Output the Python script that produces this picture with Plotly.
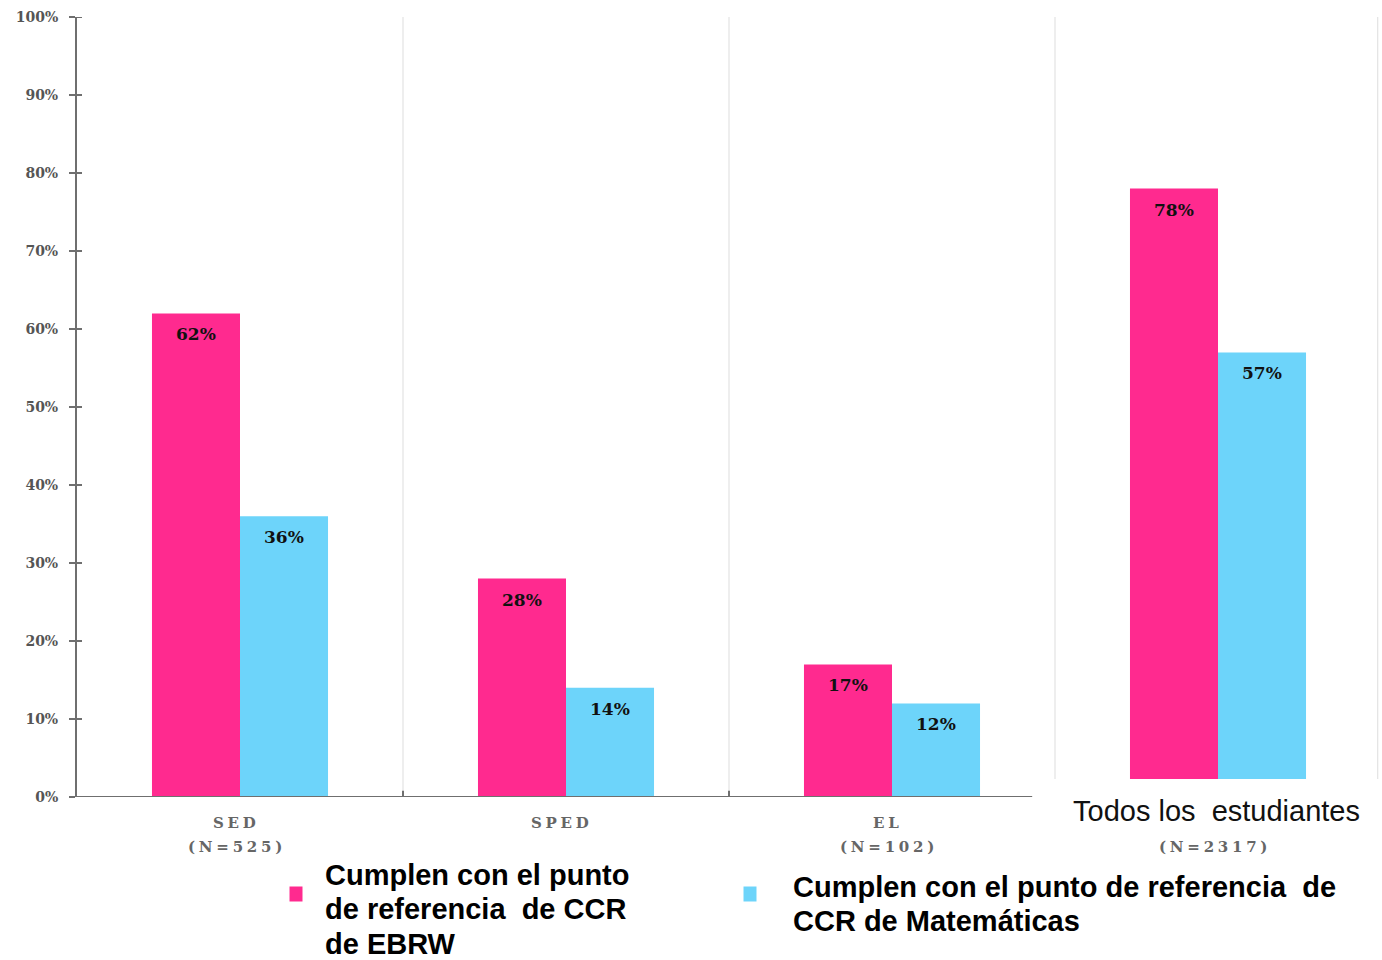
import plotly.graph_objects as go

categories = ["SED", "SPED", "EL", "Todos"]
cat_names = ["SED", "SPED", "EL", ""]
n_labels = ["(N=525)", "", "(N=102)", "(N=2317)"]
ebrw = [62, 28, 17, 78]
math = [36, 14, 12, 57]
ytick_vals = [0, 10, 20, 30, 40, 50, 60, 70, 80, 90, 100]
ytick_text = [f"{v}%" for v in ytick_vals]
legend_ebrw_lines = ["Cumplen con el punto", "de referencia  de CCR", "de EBRW"]
legend_math_lines = ["Cumplen con el punto de referencia  de", "CCR de Matemáticas"]
todos_label = "Todos los  estudiantes"

PINK = "#FF2A8F"
CYAN = "#6DD4FA"

# plot area geometry in pixels
L, R, T, B = 77, 1, 17, 163
W, H = 1382, 960
pw = W - L - R
ph = H - T - B

def px_x(px):
    return (px - L) / pw

def px_y(py):
    return (H - B - py) / ph

def spaced(s, sep="\u2005"):
    return sep.join(list(s))

fig = go.Figure()
fig.add_trace(go.Bar(x=categories, y=ebrw, marker=dict(color=PINK, line=dict(width=0)),
                     showlegend=False, hoverinfo="skip"))
fig.add_trace(go.Bar(x=categories, y=math, marker=dict(color=CYAN, line=dict(width=0)),
                     showlegend=False, hoverinfo="skip"))

annotations = []
label_font = dict(family="DejaVu Serif", size=17, color="#111", weight="bold")
for c, a, b in zip(categories, ebrw, math):
    annotations.append(dict(x=c, y=a, xref="x", yref="y", text=f"{a}%", showarrow=False,
                            xshift=-44, yshift=-21, font=label_font))
    annotations.append(dict(x=c, y=b, xref="x", yref="y", text=f"{b}%", showarrow=False,
                            xshift=44, yshift=-21, font=label_font))

cat_font = dict(family="DejaVu Serif", size=15, color="#666", weight="bold")
for c, name in zip(categories, cat_names):
    if name:
        annotations.append(dict(x=c, y=px_y(823), xref="x", yref="paper", text=spaced(name),
                                showarrow=False, font=cat_font, xshift=-6, yanchor="middle"))
for c, nl in zip(categories, n_labels):
    if nl:
        annotations.append(dict(x=c, y=px_y(847), xref="x", yref="paper", text=spaced(nl),
                                showarrow=False, font=cat_font, xshift=-5, yanchor="middle"))
annotations.append(dict(x=categories[3], y=px_y(811), xref="x", yref="paper", text=todos_label,
                        showarrow=False, xshift=-2, yanchor="middle",
                        font=dict(family="Liberation Sans", size=29, color="#111")))

leg1_font = dict(family="Liberation Sans", size=29, color="#000", weight="bold")
for line, py in zip(legend_ebrw_lines, [875, 909, 944]):
    annotations.append(dict(x=px_x(323), y=px_y(py), xref="paper", yref="paper", text=line,
                            showarrow=False, xanchor="left", yanchor="middle",
                            font=leg1_font))
leg2_font = dict(family="Liberation Sans", size=29, color="#000", weight="bold")
for line, py in zip(legend_math_lines, [887, 921]):
    annotations.append(dict(x=px_x(791), y=px_y(py), xref="paper", yref="paper", text=line,
                            showarrow=False, xanchor="left", yanchor="middle",
                            font=leg2_font))

shapes = []
grid = "#dddddd"
for xv, y0 in [(0.5, 0), (1.5, 0), (2.5, 2.3), (3.49, 2.3)]:
    shapes.append(dict(type="line", xref="x", yref="y", x0=xv, x1=xv, y0=y0, y1=100,
                       line=dict(color=grid, width=1), layer="below"))
shapes.append(dict(type="rect", xref="x", yref="y", x0=2.46, x1=3.6, y0=-1, y1=2.3,
                   fillcolor="white", line=dict(width=0), layer="above"))
shapes.append(dict(type="line", xref="x", yref="y", x0=-0.5, x1=2.43, y0=0, y1=0,
                   line=dict(color="#6f6f6f", width=2), layer="above"))
for xv in [0.5, 1.5]:
    shapes.append(dict(type="line", xref="x", yref="y", x0=xv, x1=xv, y0=-0.8, y1=0.8,
                       line=dict(color="#6f6f6f", width=2), layer="above"))
# small inner part of y ticks (reference ticks cross the axis)
for yv in ytick_vals:
    shapes.append(dict(type="line", xref="paper", yref="y", xsizemode="pixel", xanchor=0,
                       x0=0, x1=5, y0=yv, y1=yv, line=dict(color="#6f6f6f", width=2),
                       layer="above"))
shapes.append(dict(type="rect", xref="paper", yref="paper", xsizemode="pixel", ysizemode="pixel",
                   xanchor=px_x(296), yanchor=px_y(894), x0=-6.5, x1=6.5, y0=-7.5, y1=7.5,
                   fillcolor=PINK, line=dict(width=0)))
shapes.append(dict(type="rect", xref="paper", yref="paper", xsizemode="pixel", ysizemode="pixel",
                   xanchor=px_x(750), yanchor=px_y(894), x0=-6.5, x1=6.5, y0=-7.5, y1=7.5,
                   fillcolor=CYAN, line=dict(width=0)))

fig.update_layout(
    width=W, height=H,
    margin=dict(l=L, r=R, t=T, b=B),
    paper_bgcolor="white", plot_bgcolor="white",
    barmode="group", bargap=0.46, bargroupgap=0,
    annotations=annotations, shapes=shapes,
    showlegend=False,
)
fig.update_xaxes(range=[-0.5, 3.5], showticklabels=False, showline=False, showgrid=False,
                 zeroline=False, ticks="")
fig.update_yaxes(range=[0, 100], tickvals=ytick_vals, ticktext=ytick_text,
                 showline=True, linecolor="#6f6f6f", linewidth=2,
                 ticks="outside", ticklen=6, tickwidth=2, tickcolor="#6f6f6f",
                 ticklabelstandoff=8, showgrid=False, zeroline=False,
                 tickfont=dict(family="DejaVu Serif", size=14, color="#555", weight="bold"))

fig.write_html("out.html", config={"displayModeBar": False},
               post_script="document.body.style.margin='0';document.body.style.overflow='hidden';")
